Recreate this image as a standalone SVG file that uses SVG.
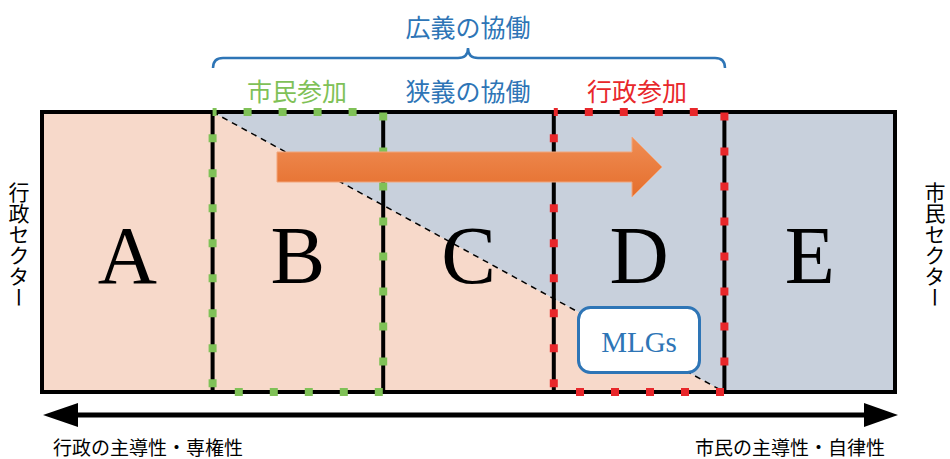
<svg xmlns="http://www.w3.org/2000/svg" width="950" height="459" viewBox="0 0 950 459">
  <style>
    .jp { font-family: "Noto Sans CJK JP", "Noto Sans", sans-serif; }
    .big { font-family: "Liberation Serif", "Times New Roman", serif; font-size: 82px; fill: #000; text-anchor: middle; }
    .blue { fill: #2E75B6; }
    .sep { stroke: #000; stroke-width: 4; fill: none; }
    .dots { fill: none; stroke-width: 8; stroke-dasharray: 8 27; stroke-dashoffset: 4; }
    .vert { writing-mode: vertical-rl; font-size: 21px; fill: #000; }
  </style>
  <defs>
    <linearGradient id="og" x1="0" y1="0" x2="0" y2="1">
      <stop offset="0" stop-color="#EF8D54"/>
      <stop offset="1" stop-color="#E56E2C"/>
    </linearGradient>
    <marker id="ah" viewBox="0 0 10 10" refX="10" refY="5" markerWidth="7" markerHeight="5" markerUnits="strokeWidth" orient="auto-start-reverse">
      <path d="M0,0 L10,5 L0,10 Z" fill="#000"/>
    </marker>
  </defs>

  <!-- background areas -->
  <g id="areas">
    <polygon points="42,112 212.6,112 724.4,392 42,392" fill="#F7D9CA"/>
    <polygon points="212.6,112 895,112 895,392 724.4,392" fill="#C8D0DC"/>
    <line x1="212.6" y1="112" x2="724.4" y2="392" stroke="#000" stroke-width="1.5" stroke-dasharray="6 5"/>
  </g>

  <!-- column separators and frame -->
  <g id="frame">
    <line class="sep" x1="212.6" y1="112" x2="212.6" y2="392"/>
    <line class="sep" x1="383.2" y1="112" x2="383.2" y2="392"/>
    <line class="sep" x1="553.8" y1="112" x2="553.8" y2="392"/>
    <line class="sep" x1="724.4" y1="112" x2="724.4" y2="392"/>
    <rect x="42" y="112" width="853" height="280" fill="none" stroke="#000" stroke-width="4"/>
  </g>

  <!-- dashed participation ranges -->
  <g id="range-citizen">
    <path class="dots" stroke="#7FC157" d="M212.6,112 H383.2 V392 H212.6 Z"/>
  </g>
  <g id="range-admin">
    <path class="dots" stroke="#E8272B" d="M553.8,112 H724.4 V392 H553.8 Z"/>
  </g>

  <!-- column letters -->
  <g id="col-A"><text class="big" x="127.3" y="283">A</text></g>
  <g id="col-B"><text class="big" x="297.9" y="283">B</text></g>
  <g id="col-C"><text class="big" x="468.5" y="283">C</text></g>
  <g id="col-D"><text class="big" x="639.1" y="283">D</text></g>
  <g id="col-E"><text class="big" x="809.7" y="283">E</text></g>

  <!-- MLGs box -->
  <g id="mlgs">
    <rect x="578.5" y="307.5" width="121" height="65" rx="12" ry="12" fill="#fff" stroke="#2E75B6" stroke-width="3"/>
    <text x="639" y="352" font-family="Liberation Serif, serif" font-size="29" fill="#2E75B6" text-anchor="middle">MLGs</text>
  </g>

  <!-- orange progress arrow -->
  <g id="progress-arrow">
    <polygon points="277,152 632,152 632,137 662,167 632,197 632,182 277,182" fill="url(#og)" stroke="#F2A57A" stroke-width="1"/>
  </g>

  <!-- top bracket and labels -->
  <g id="bracket">
    <path d="M213,68 Q213,58 223,58 H458 Q468,58 468,48 Q468,58 478,58 H715 Q725,58 725,68" fill="none" stroke="#2E75B6" stroke-width="2.5"/>
  </g>
  <g id="label-broad"><text class="jp blue" x="468" y="37" font-size="25" text-anchor="middle">広義の協働</text></g>
  <g id="label-citizen"><text class="jp" x="297" y="101" font-size="25" fill="#7FC157" text-anchor="middle">市民参加</text></g>
  <g id="label-narrow"><text class="jp blue" x="468" y="101" font-size="25" text-anchor="middle">狭義の協働</text></g>
  <g id="label-admin"><text class="jp" x="637" y="101" font-size="25" fill="#E8272B" text-anchor="middle">行政参加</text></g>

  <!-- side labels -->
  <g id="sector-admin"><text class="jp vert" x="19" y="182">行政セクター</text></g>
  <g id="sector-citizen"><text class="jp vert" x="935" y="182">市民セクター</text></g>

  <!-- bottom double arrow -->
  <g id="connectors">
    <line x1="78" y1="415" x2="864" y2="415" stroke="#000" stroke-width="5"/>
    <polygon points="43,415 78,403 78,427" fill="#000"/>
    <polygon points="898,415 864,403 864,427" fill="#000"/>
  </g>
  <g id="axis-labels">
    <text class="jp" x="53" y="455" font-size="19" fill="#000">行政の主導性・専権性</text>
    <text class="jp" x="885" y="455" font-size="19" fill="#000" text-anchor="end">市民の主導性・自律性</text>
  </g>
</svg>
